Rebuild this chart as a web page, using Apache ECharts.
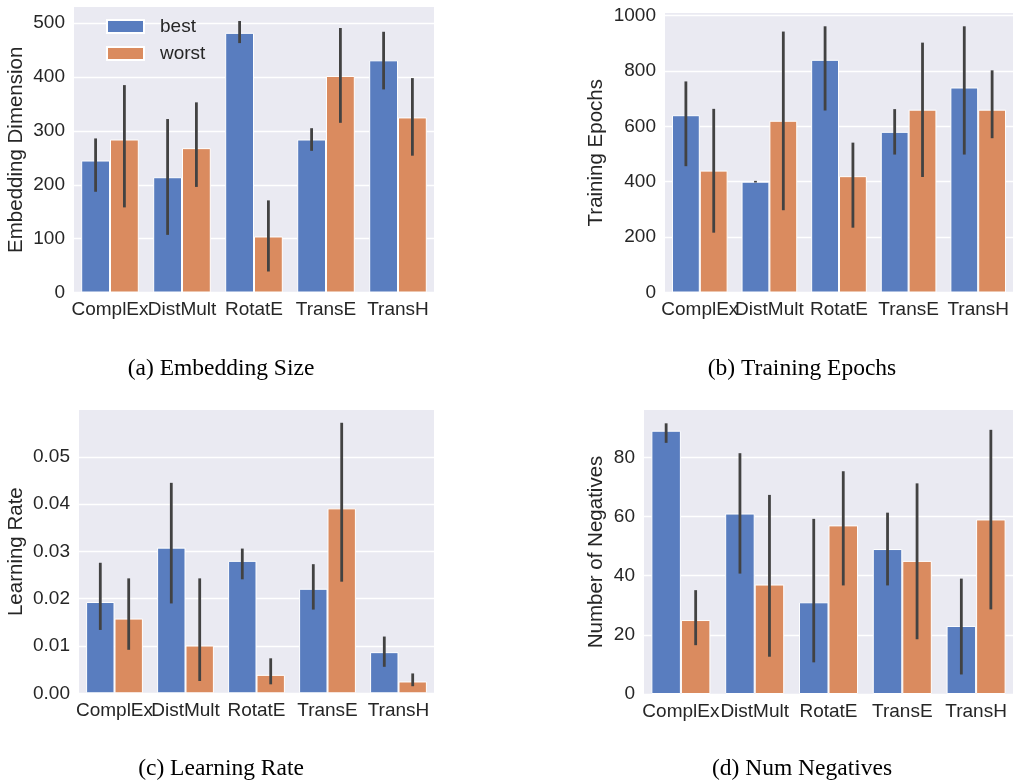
<!DOCTYPE html>
<html>
<head>
<meta charset="utf-8">
<script src="https://cdn.jsdelivr.net/npm/echarts/dist/echarts.min.js"></script>
<style>
html,body{margin:0;padding:0;background:#fff;}
#chart{width:1013px;height:782px;}
</style>
</head>
<body>
<div id="chart"></div>
<script>
// ---------- data ----------
const categories = ['ComplEx', 'DistMult', 'RotatE', 'TransE', 'TransH'];
const groupNames = ['best', 'worst'];

// (a) Embedding Size
const embBest      = [245, 214, 482, 284, 431];
const embBestLow   = [187, 107, 463, 263, 377];
const embBestHigh  = [286, 322, 504, 305, 484];
const embWorst     = [284, 268, 104, 402, 325];
const embWorstLow  = [158, 196, 39, 315, 254];
const embWorstHigh = [385, 353, 171, 491, 398];

// (b) Training Epochs
const epBest      = [640, 400, 840, 580, 740];
const epBestLow   = [456, 397, 657, 498, 498];
const epBestHigh  = [762, 403, 961, 662, 961];
const epWorst     = [440, 620, 420, 660, 660];
const epWorstLow  = [216, 297, 234, 417, 557];
const epWorstHigh = [663, 942, 541, 902, 802];

// (c) Learning Rate
const lrBest      = [0.0193, 0.0308, 0.0280, 0.0221, 0.0087];
const lrBestLow   = [0.0134, 0.0190, 0.0241, 0.0177, 0.0056];
const lrBestHigh  = [0.0276, 0.0445, 0.0306, 0.0273, 0.0120];
const lrWorst     = [0.0158, 0.0101, 0.0039, 0.0391, 0.0025];
const lrWorstLow  = [0.0092, 0.0026, 0.0019, 0.0236, 0.0015];
const lrWorstHigh = [0.0243, 0.0243, 0.0074, 0.0572, 0.0042];

// (d) Num Negatives
const negBest      = [89, 61, 31, 49, 23];
const negBestLow   = [84.9, 40.7, 10.7, 36.7, 6.6];
const negBestHigh  = [91.5, 81.4, 59.2, 61.3, 39.0];
const negWorst     = [25, 37, 57, 45, 59];
const negWorstLow  = [16.5, 12.6, 36.7, 18.5, 28.6];
const negWorstHigh = [35.1, 67.3, 75.3, 71.2, 89.3];

const yNames   = ['Embedding Dimension', 'Training Epochs', 'Learning Rate', 'Number of Negatives'];
const captions = ['(a) Embedding Size', '(b) Training Epochs', '(c) Learning Rate', '(d) Num Negatives'];
const yMax      = [530, 1009, 0.0599, 96];
const yInterval = [100, 200, 0.01, 20];

// ---------- style / layout ----------
const BLUE = '#597DBF', ORANGE = '#DA8B5F', ERR = '#424242', TXT = '#262626';
const FONT = '"Liberation Sans", Arial, sans-serif';
const grids = [
  {left: 74,  top: 7,   width: 360, height: 285.5},
  {left: 665, top: 13,  width: 350, height: 279.5},
  {left: 79,  top: 410, width: 355, height: 283.3},
  {left: 644, top: 410, width: 370, height: 284}
];
const nameGaps = [47, 58, 52, 37];
const captionPos = [[221, 369], [802, 369], [221, 769], [802, 769]];

const panels = [
  [embBest, embBestLow, embBestHigh, embWorst, embWorstLow, embWorstHigh],
  [epBest, epBestLow, epBestHigh, epWorst, epWorstLow, epWorstHigh],
  [lrBest, lrBestLow, lrBestHigh, lrWorst, lrWorstLow, lrWorstHigh],
  [negBest, negBestLow, negBestHigh, negWorst, negWorstLow, negWorstHigh]
];

function errRender(sign) {
  return function (params, api) {
    const x = api.value(0);
    const lo = api.coord([x, api.value(1)]);
    const hi = api.coord([x, api.value(2)]);
    const bw = api.size([1, 0])[0];
    const dx = sign * 0.2 * bw;
    return {
      type: 'line',
      shape: {x1: lo[0] + dx, y1: lo[1], x2: hi[0] + dx, y2: hi[1]},
      style: {stroke: ERR, lineWidth: 2.8}
    };
  };
}

const option = {
  animation: false,
  backgroundColor: '#fff',
  grid: grids.map(g => Object.assign({show: true, backgroundColor: '#EAEAF2', borderWidth: 0}, g)),
  xAxis: grids.map((g, i) => ({
    type: 'category', gridIndex: i, data: categories,
    axisLine: {show: false}, axisTick: {show: false}, splitLine: {show: false},
    axisLabel: {interval: 0, margin: 8, fontSize: 19, color: TXT, fontFamily: FONT}
  })),
  yAxis: grids.map((g, i) => ({
    type: 'value', gridIndex: i, min: 0, max: yMax[i], interval: yInterval[i],
    name: yNames[i], nameLocation: 'middle', nameGap: nameGaps[i],
    nameTextStyle: {fontSize: 20.5, color: TXT, fontFamily: FONT},
    axisLine: {show: false}, axisTick: {show: false},
    splitLine: {show: true, showMaxLine: false, lineStyle: {color: '#ffffff', width: 1.3}},
    axisLabel: {
      margin: 9, fontSize: 19, color: TXT, fontFamily: FONT, showMaxLabel: false,
      formatter: i === 2 ? (v => v.toFixed(2)) : (v => String(Math.round(v)))
    }
  })),
  legend: {
    data: groupNames, orient: 'vertical', left: 106, top: 17, padding: 0,
    itemWidth: 37, itemHeight: 13, itemGap: 8, icon: 'rect',
    textStyle: {fontSize: 19, color: TXT, fontFamily: FONT, padding: [0, 0, 0, 11]}
  },
  series: [],
  graphic: captions.map((c, i) => ({
    type: 'text', x: captionPos[i][0], y: captionPos[i][1],
    style: {text: c, fontSize: 23.5, fontFamily: '"Liberation Serif", "Times New Roman", serif',
      fill: '#000', align: 'center', verticalAlign: 'middle'}
  }))
};

panels.forEach((p, i) => {
  const [b, bl, bh, w, wl, wh] = p;
  option.series.push({
    name: groupNames[0], type: 'bar', xAxisIndex: i, yAxisIndex: i, data: b,
    barGap: '0%', barCategoryGap: '20%',
    itemStyle: {color: BLUE, borderColor: '#ffffff', borderWidth: 1}
  });
  option.series.push({
    name: groupNames[1], type: 'bar', xAxisIndex: i, yAxisIndex: i, data: w,
    barGap: '0%', barCategoryGap: '20%',
    itemStyle: {color: ORANGE, borderColor: '#ffffff', borderWidth: 1}
  });
  option.series.push({
    type: 'custom', xAxisIndex: i, yAxisIndex: i, z: 10,
    renderItem: errRender(-1), encode: {x: 0, y: [1, 2]},
    data: categories.map((c, k) => [k, bl[k], bh[k]])
  });
  option.series.push({
    type: 'custom', xAxisIndex: i, yAxisIndex: i, z: 10,
    renderItem: errRender(1), encode: {x: 0, y: [1, 2]},
    data: categories.map((c, k) => [k, wl[k], wh[k]])
  });
});

const chart = echarts.init(document.getElementById('chart'), null, {renderer: 'canvas'});
chart.setOption(option);
</script>
</body>
</html>
